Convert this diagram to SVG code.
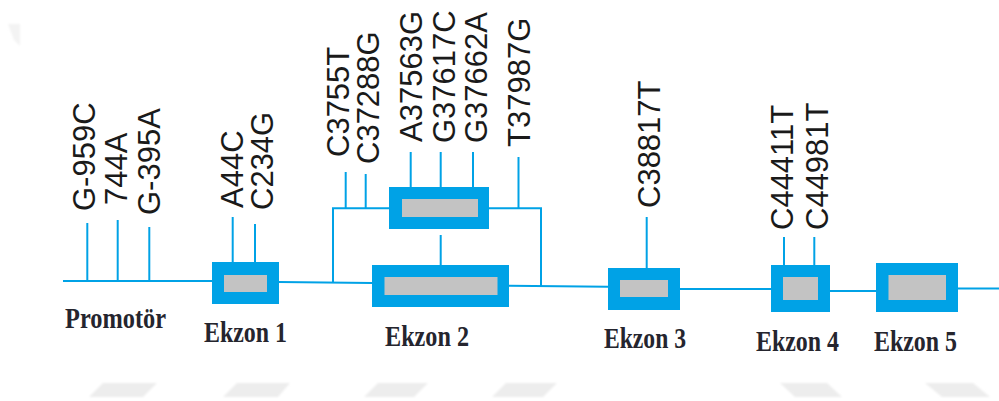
<svg xmlns="http://www.w3.org/2000/svg" width="999" height="401" viewBox="0 0 999 401">
<style>
.ln{stroke:#00A2E6;stroke-width:2;fill:none}
.ex{fill:#00A2E6}
.in{fill:#C3C3C3}
.lb{font-family:"Liberation Sans",Arial,sans-serif;font-size:31px;fill:#1a1a1a}
.bt{font-family:"Liberation Serif","Times New Roman",serif;font-size:29px;font-weight:bold;fill:#25252e}
.wm{fill:#EDEDED}
</style>
<defs>
<filter id="soft" x="-10%" y="-50%" width="120%" height="200%"><feGaussianBlur stdDeviation="1"/></filter>
</defs>
<g id="watermark" filter="url(#soft)">
<polygon class="wm" points="89,397 103,383 157,383 143,397"/>
<polygon class="wm" points="223,397 237,383 290,383 278,397"/>
<polygon class="wm" points="364,397 378,383 428,383 414,397"/>
<polygon class="wm" points="492,397 506,383 557,383 543,397"/>
<polygon class="wm" points="780,383 827,383 842,397 795,397"/>
<polygon class="wm" points="925,383 973,383 990,397 942,397"/>
<polygon points="8,24 20,24 20,46 14,40" fill="#F3F3F3"/>
</g>
<g id="connectors">
<line class="ln" x1="63" y1="281" x2="212" y2="281"/>
<line class="ln" x1="279" y1="282" x2="372" y2="283"/>
<line class="ln" x1="509" y1="285.7" x2="608" y2="286.7"/>
<line class="ln" x1="680" y1="289" x2="771" y2="289"/>
<line class="ln" x1="830" y1="291" x2="876" y2="291"/>
<line class="ln" x1="958" y1="288.5" x2="999" y2="288.5"/>
<polyline class="ln" points="333,283 333,208.3 389,208.3"/>
<polyline class="ln" points="489,208.3 541,208.3 541,286"/>
<line class="ln" x1="440.7" y1="235" x2="440.7" y2="265"/>
<line class="ln" x1="87.3" y1="223" x2="87.3" y2="281"/>
<line class="ln" x1="117.7" y1="220" x2="117.7" y2="281"/>
<line class="ln" x1="149.3" y1="227" x2="149.3" y2="281"/>
<line class="ln" x1="232.7" y1="217" x2="232.7" y2="262"/>
<line class="ln" x1="255" y1="224" x2="255" y2="262"/>
<line class="ln" x1="345.7" y1="172" x2="345.7" y2="208.3"/>
<line class="ln" x1="365.7" y1="174" x2="365.7" y2="208.3"/>
<line class="ln" x1="410.7" y1="152" x2="410.7" y2="187"/>
<line class="ln" x1="440.7" y1="152" x2="440.7" y2="187"/>
<line class="ln" x1="473" y1="152" x2="473" y2="187"/>
<line class="ln" x1="518.5" y1="157" x2="518.5" y2="208.3"/>
<line class="ln" x1="646.7" y1="217" x2="646.7" y2="268"/>
<line class="ln" x1="784" y1="237" x2="784" y2="265"/>
<line class="ln" x1="814.3" y1="237" x2="814.3" y2="265"/>
</g>
<g id="exon1"><rect class="ex" x="212" y="262" width="67" height="42"/><rect class="in" x="224" y="275" width="43" height="17"/></g>
<g id="exon2"><rect class="ex" x="372" y="265" width="137" height="42"/><rect class="in" x="384.5" y="277" width="113" height="18"/></g>
<g id="exon2-alt"><rect class="ex" x="389" y="187" width="100" height="42"/><rect class="in" x="402" y="199" width="76" height="18"/></g>
<g id="exon3"><rect class="ex" x="608" y="268" width="72" height="42"/><rect class="in" x="620" y="280" width="48" height="17"/></g>
<g id="exon4"><rect class="ex" x="771" y="265" width="59" height="47"/><rect class="in" x="783" y="277" width="35" height="23"/></g>
<g id="exon5"><rect class="ex" x="876" y="263" width="82" height="49"/><rect class="in" x="888.5" y="275" width="57.5" height="25"/></g>
<g id="snp-labels">
<text class="lb" transform="translate(95,211) rotate(-90)">G-959C</text>
<text class="lb" transform="translate(127,205) rotate(-90)">744A</text>
<text class="lb" transform="translate(160,215) rotate(-90)">G-395A</text>
<text class="lb" transform="translate(243,208) rotate(-90)">A44C</text>
<text class="lb" transform="translate(273,210) rotate(-90)">C234G</text>
<text class="lb" transform="translate(349,157) rotate(-90)">C3755T</text>
<text class="lb" transform="translate(379,164) rotate(-90)">C37288G</text>
<text class="lb" transform="translate(422,142) rotate(-90)">A37563G</text>
<text class="lb" transform="translate(455,143) rotate(-90)">G37617C</text>
<text class="lb" transform="translate(487,143) rotate(-90)">G37662A</text>
<text class="lb" transform="translate(530,147) rotate(-90)">T37987G</text>
<text class="lb" transform="translate(660,208) rotate(-90)">C38817T</text>
<text class="lb" transform="translate(793,230) rotate(-90)">C44411T</text>
<text class="lb" transform="translate(828,230) rotate(-90)">C44981T</text>
</g>
<g id="region-labels">
<text class="bt" x="65" y="328" textLength="101" lengthAdjust="spacingAndGlyphs">Promotör</text>
<text class="bt" x="204" y="341.5" textLength="83" lengthAdjust="spacingAndGlyphs">Ekzon 1</text>
<text class="bt" x="385" y="346" textLength="84" lengthAdjust="spacingAndGlyphs">Ekzon 2</text>
<text class="bt" x="604" y="348" textLength="82" lengthAdjust="spacingAndGlyphs">Ekzon 3</text>
<text class="bt" x="756" y="351" textLength="83" lengthAdjust="spacingAndGlyphs">Ekzon 4</text>
<text class="bt" x="874" y="351" textLength="83" lengthAdjust="spacingAndGlyphs">Ekzon 5</text>
</g>
</svg>
